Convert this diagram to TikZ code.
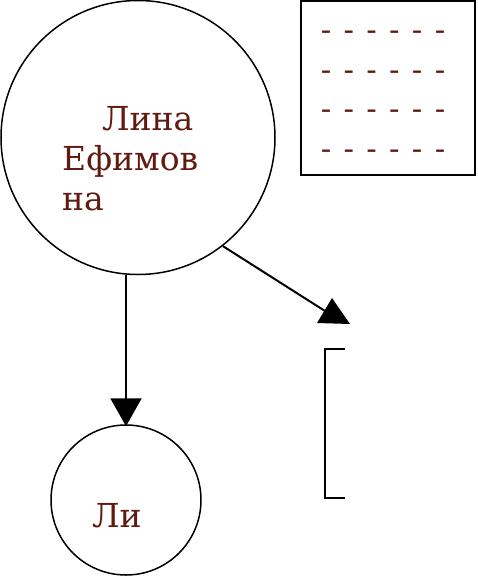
\documentclass[tikz,border=0pt]{standalone}
\usepackage{fontspec}
\setmainfont{DejaVu Serif}
\usetikzlibrary{arrows.meta}
\definecolor{namecol}{RGB}{96,26,16}

\begin{document}
\begin{tikzpicture}[x=1pt, y=-1pt, >={Triangle[width=31pt,length=28pt]},
  person/.style={draw, circle, line width=1.5pt, inner sep=0pt},
  nametext/.style={text=namecol, font=\fontsize{33}{40}\selectfont, inner sep=0pt},
  link/.style={line width=2pt}]
\useasboundingbox (0,0) rectangle (477,576);

\node[person, minimum size=274pt] (lina) at (138,137.5) {};
\node[nametext, anchor=north west, align=left] (linatext) at (62,106) {\hspace*{40pt}Лина\\Ефимов\\на};
\node[person, minimum size=150pt] (li) at (126,500) {};
\node[nametext, anchor=base west] (litext) at (92,527) {Ли};

\draw[link,->] (lina.south -| li.north) -- ([yshift=-2pt]li.north);

\coordinate (aim) at (325,311);
\draw[link] (lina.-52) -- (aim);
\fill (332,298) -- (350,324) -- (317,323) -- cycle;

% notes box
\node[draw, line width=2pt, minimum width=174pt, minimum height=174pt, inner sep=0pt] (notes) at (388,88) {};
\foreach \r in {0,...,3}
  \foreach \c in {0,...,5}
    \node[nametext, font=\fontsize{31}{40}\selectfont, anchor=base] (d\r\c) at (326+22.8*\c, 40.5+39.5*\r) {-};

\draw[line width=2pt] (345,349) -| (325,498) -- (345,498);
\end{tikzpicture}
\end{document}
